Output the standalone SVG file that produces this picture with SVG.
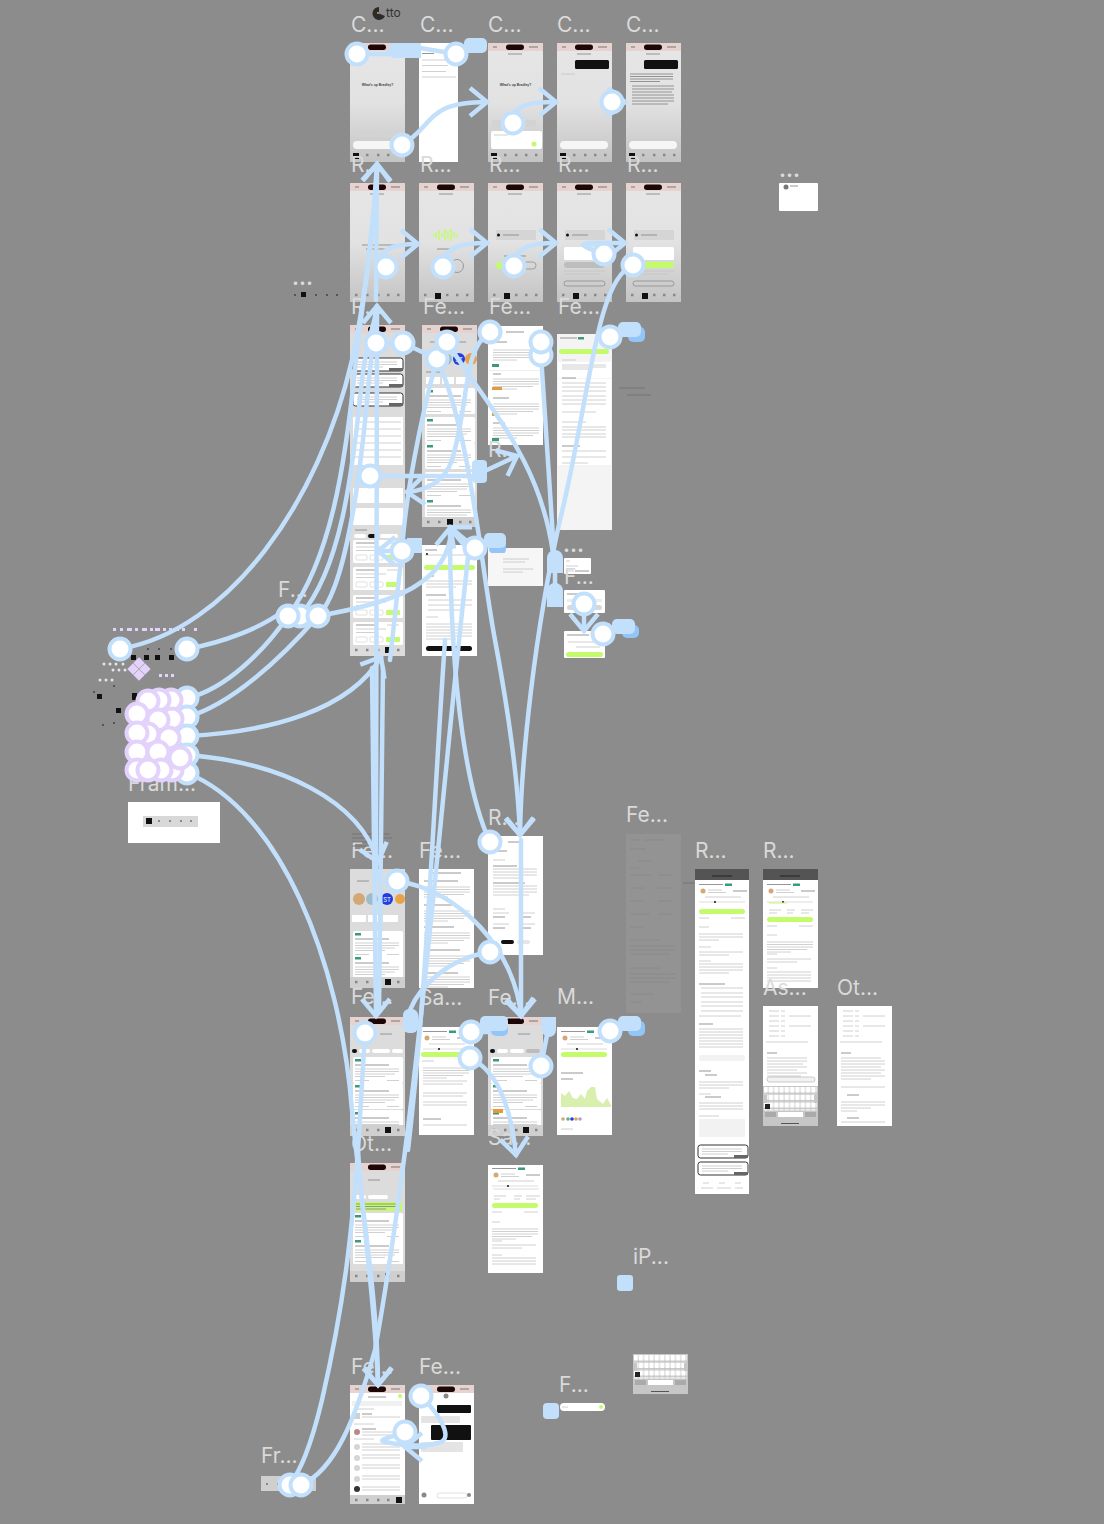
<svg xmlns="http://www.w3.org/2000/svg" width="1104" height="1524" viewBox="0 0 1104 1524">
<style>
.lb{font-family:Inter,"Liberation Sans",sans-serif;font-size:21px;fill:#dadada}
.t{font-family:"Liberation Sans",sans-serif;font-weight:700;fill:#444}
.c{fill:none;stroke:#c2e0fb;stroke-width:4.500;stroke-linecap:round;marker-end:url(#ah)}
.n{fill:none;stroke:#c2e0fb;stroke-width:4.500;stroke-linecap:round}
.b{fill:#c2e0fb}
.d{fill:#93c5f8}
.h{fill:#fff;stroke:#c2e0fb;stroke-width:4}
.p{fill:#fff;stroke:#e3d2fb;stroke-width:4}
.w{fill:#fff}
.tx{stroke:#c4c4c4;stroke-width:.8;fill:none}
.tk{stroke:#8a8a8a;stroke-width:.9;fill:none}
.k{fill:#111}
.g{fill:#c4fb6d}
.dot{fill:#e6e6e6}
.pd{fill:#e3d2fb}
</style>
<defs>
<marker id="ah" markerUnits="userSpaceOnUse" markerWidth="34" markerHeight="38" refX="19" refY="17" orient="auto">
<path d="M2 3L19 17L2 31" fill="none" stroke="#c2e0fb" stroke-width="4.500"/>
</marker>
<linearGradient id="gr" x1="0" y1="0" x2="0" y2="1"><stop offset="0" stop-color="#e6e6e6"/><stop offset=".5" stop-color="#e2e2e2"/><stop offset="1" stop-color="#c4c4c4"/></linearGradient>
<pattern id="key" width="5.300" height="7.500" patternUnits="userSpaceOnUse"><rect x=".4" y=".6" width="4.500" height="6" rx=".7" fill="#fff"/></pattern>
<g id="sb"><rect width="55" height="8" fill="#e6d2cf"/><rect x="18" y="1.500" width="18" height="5.500" rx="2.700" fill="#1d0606"/><path d="M5 4h4M41 4h9" stroke="#777" stroke-width="1"/></g>
<g id="sc"><rect width="55" height="119" fill="url(#gr)"/><use href="#sb"/></g>
<g id="tabs"><path d="M5 0h2.500M16 0h2.500M27 0h2.500M37 0h2.500M47 0h2.500" stroke="#888" stroke-width="2.500"/></g>
<g id="c1"><rect width="50" height="26" rx="1.500" class="w"/><rect x="2" y="2" width="6" height="2.500" fill="#3c9a7c"/><path class="tk" d="M2 8h34"/><path class="tx" d="M2 12h44M2 14.500h44M2 17h40M2 19.500h30M2 23.500h14M34 23.500h12"/></g>
<g id="c2"><rect width="50" height="23" rx="1.500" class="w"/><path class="tk" d="M3 3h20"/><path class="tx" d="M34 3h12M3 7h30M3 10.500h22"/><rect x="3" y="15" width="11" height="5" rx="1" fill="none" stroke="#ccc" stroke-width=".6"/><rect x="17" y="15" width="13" height="5" rx="1" fill="none" stroke="#ccc" stroke-width=".6"/><rect x="33" y="15" width="14" height="5" rx="1" class="g"/></g>
<g id="call"><rect width="50" height="13" rx="2.500" class="w" stroke="#333" stroke-width="1"/><path class="tx" d="M4 4h40M4 6.500h40M4 9h26"/><rect x="36" y="10" width="14" height="3" fill="#666"/></g>
<g id="para"><path class="tx" d="M0 0h46M0 2.500h46M0 5h46M0 7.500h40M0 10h24"/></g>
<g id="hdr"><circle cx="6" cy="9" r="2.500" fill="#d3a877"/><path class="tk" d="M2 2.500h24"/><rect x="28" y="1.500" width="7" height="2.500" fill="#3c9a7c"/><path class="tx" d="M11 8h14M11 10.500h18"/><path class="tk" d="M36 9h14" stroke-width="1.300"/><path class="tx" d="M8 15h36"/><path d="M2 20h46" stroke="#ddd" stroke-width="1"/><circle cx="18" cy="20" r="1" class="k"/></g>
<g id="kbd"><rect width="55" height="40" fill="#c6c6c6"/><rect x="1" y="1" width="53" height="7.500" fill="url(#key)"/><rect x="4" y="9" width="47" height="7.500" fill="url(#key)"/><rect x="1" y="17" width="53" height="7.500" fill="url(#key)"/><rect x="2" y="18" width="5" height="5" fill="#222"/><rect x="2" y="26" width="11" height="5" fill="#aaa"/><rect x="15" y="26" width="25" height="5" class="w"/><rect x="42" y="26" width="11" height="5" fill="#aaa"/><rect x="18" y="37" width="18" height="1" fill="#555"/></g>
</defs>

<rect width="1104" height="1524" fill="#8c8c8c"/>

<g id="logo"><path d="M379 7a6.500 6.500 0 1 0 6 9l-6-2.500z" fill="#2b2b2b"/><circle cx="378" cy="13" r="1" fill="#d9a33c"/><text x="386" y="17" font-family="Inter,'Liberation Sans',sans-serif" font-size="12" fill="#333">tto</text></g>

<g id="f-chat1" transform="translate(350,43)"><use href="#sc"/><path class="tk" d="M20 11h14"/><text class="t" x="27.500" y="43" font-size="3.400" text-anchor="middle">What's up Bradley?</text><rect x="4" y="87" width="22" height="7" rx="2" fill="#d3d3d3"/><rect x="28" y="87" width="20" height="7" rx="2" fill="#d3d3d3"/><rect x="3" y="98" width="48" height="8" rx="4" fill="#f6f6f6"/><use href="#tabs" y="112"/><rect x="3" y="110" width="6" height="6" class="k"/></g>
<g id="f-hist" transform="translate(419,43)"><rect width="39" height="119" class="w"/><path class="tk" d="M3 10.500h12"/><path class="tx" d="M3 17h26M3 22.500h26M3 28.500h24M3 34h34"/></g>
<g id="f-chat2" transform="translate(488,43)"><use href="#sc"/><path class="tk" d="M20 11h14"/><text class="t" x="27.500" y="43" font-size="3.400" text-anchor="middle">What's up Bradley?</text><rect x="4" y="77" width="22" height="7" rx="2" fill="#d3d3d3"/><rect x="28" y="77" width="20" height="7" rx="2" fill="#d3d3d3"/><rect x="3" y="88" width="51" height="18" rx="2" class="w"/><circle cx="46" cy="101" r="2.500" class="g"/><path class="tx" d="M6 92h14"/><use href="#tabs" y="112"/><rect x="3" y="110" width="6" height="6" class="k"/></g>
<g id="f-chat3" transform="translate(557,43)"><use href="#sc"/><path class="tk" d="M20 11h14"/><rect x="18" y="17" width="34" height="9" rx="1.500" class="k"/><path class="tx" d="M4 31h14"/><rect x="3" y="98" width="48" height="8" rx="4" fill="#f6f6f6"/><use href="#tabs" y="112"/><rect x="3" y="110" width="6" height="6" class="k"/></g>
<g id="f-chat4" transform="translate(626,43)"><use href="#sc"/><path class="tk" d="M20 11h14"/><rect x="18" y="17" width="34" height="9" rx="1.500" class="k"/><path class="tk" stroke-width=".6" d="M4 31h43M4 33.500h43M4 36h43M4 38.500h30M6 43h42M6 46h42M6 49h40M6 52h42M6 55h42M6 58h42M6 61h36"/><rect x="3" y="98" width="48" height="8" rx="4" fill="#f6f6f6"/><use href="#tabs" y="112"/><rect x="3" y="110" width="6" height="6" class="k"/></g>

<g id="f-rec1" transform="translate(350,183)"><use href="#sc"/><path class="tk" d="M20 11h14"/><path class="tk" d="M12 62h34M16 66h22"/><use href="#tabs" y="112"/></g>
<g id="f-rec2" transform="translate(419,183)"><use href="#sc"/><path class="tk" d="M20 11h14"/><path d="M14 52h2M17 49v6M20 47v10M23 50v4M26 46v12M29 48v8M32 46v12M35 49v6M38 51v3" stroke="#c4fb6d" stroke-width="1.500"/><path class="tk" d="M18 66h19"/><circle cx="24" cy="83" r="10" fill="none" stroke="#222"/><circle cx="38" cy="83" r="6.500" fill="none" stroke="#999"/><use href="#tabs" y="112"/><rect x="16" y="110" width="6" height="6" class="k"/></g>
<g id="f-rec3" transform="translate(488,183)"><use href="#sc"/><path class="tk" d="M20 11h14"/><rect x="8" y="47" width="40" height="10" rx="1" fill="#d5d5d5"/><circle cx="10.500" cy="52" r="1.500" class="k"/><path class="tk" d="M15 52h16"/><path class="tk" d="M16 73h22"/><rect x="8" y="79" width="18" height="7" rx="3.500" class="g"/><rect x="28" y="79" width="20" height="7" rx="3.500" fill="none" stroke="#888" stroke-width=".7"/><use href="#tabs" y="112"/><rect x="16" y="110" width="6" height="6" class="k"/></g>
<g id="f-rec4" transform="translate(557,183)"><use href="#sc"/><path class="tk" d="M20 11h14"/><rect x="8" y="47" width="40" height="10" rx="1" fill="#d5d5d5"/><circle cx="10.500" cy="52" r="1.500" class="k"/><path class="tk" d="M15 52h16"/><rect x="7" y="64" width="41" height="13" rx="1.500" class="w"/><rect x="7" y="79" width="41" height="6" rx="3" fill="#bdbdbd"/><path class="tx" d="M7 88h41M7 91h36"/><rect x="7" y="98" width="41" height="5" rx="2.500" fill="none" stroke="#777" stroke-width=".6"/><use href="#tabs" y="112"/><rect x="16" y="110" width="6" height="6" class="k"/></g>
<g id="f-rec5" transform="translate(626,183)"><use href="#sc"/><path class="tk" d="M20 11h14"/><rect x="8" y="47" width="40" height="10" rx="1" fill="#d5d5d5"/><circle cx="10.500" cy="52" r="1.500" class="k"/><path class="tk" d="M15 52h16"/><rect x="7" y="64" width="41" height="13" rx="1.500" class="w"/><rect x="7" y="79" width="41" height="6" rx="3" class="g"/><path class="tx" d="M7 88h41M7 91h36"/><rect x="7" y="98" width="41" height="5" rx="2.500" fill="none" stroke="#777" stroke-width=".6"/><use href="#tabs" y="112"/><rect x="16" y="110" width="6" height="6" class="k"/></g>

<g id="f-home" transform="translate(350,325)"><rect width="55" height="331" fill="#dcdcdc"/><use href="#sb"/><rect x="4" y="16" width="4" height="4" class="g"/><use href="#call" x="3" y="33"/><use href="#call" x="3" y="49"/><use href="#call" x="3" y="68"/><rect x="3" y="92" width="50" height="48" class="w"/><path class="tx" d="M5 97h46M5 104h46M5 111h46M5 118h46M5 125h46M5 132h46"/><rect x="3" y="163" width="50" height="15" class="w"/><rect x="3" y="183" width="50" height="17" class="w"/><path class="tk" d="M5 205h12"/><rect x="18" y="209" width="10" height="4" rx="2" class="k"/><rect x="4" y="209" width="12" height="4" rx="2" class="w"/><rect x="30" y="209" width="18" height="4" rx="2" class="w"/><use href="#c2" x="3" y="215"/><use href="#c2" x="3" y="242"/><use href="#c2" x="3" y="270"/><use href="#c2" x="3" y="297"/><use href="#tabs" y="325"/><rect x="35" y="322" width="6" height="6" class="k"/></g>
<g id="f-feed1" transform="translate(422,325)"><rect width="55" height="202" fill="#dcdcdc"/><use href="#sb"/><path class="tk" d="M8 17h12M32 17h12"/><circle cx="11" cy="34" r="6" fill="#d3a877"/><circle cx="24" cy="34" r="6" fill="#9bbcc9"/><circle cx="37" cy="34" r="6" fill="#1d3fe0"/><text x="37" y="36.500" font-family="Inter,'Liberation Sans',sans-serif" font-size="6" fill="#fff" text-anchor="middle">ST</text><circle cx="49" cy="34" r="6" fill="#e8a24c"/><path class="tk" d="M4 47h16"/><rect x="4" y="52" width="14" height="7" class="w"/><rect x="20" y="52" width="12" height="7" class="w"/><rect x="34" y="52" width="12" height="7" class="w"/><use href="#c1" x="3" y="63"/><use href="#c1" x="3" y="92"/><use href="#c1" x="3" y="118"/><use href="#c1" x="3" y="147"/><use href="#c1" x="3" y="173"/><rect y="192" width="55" height="10" fill="#cfcfcf"/><use href="#tabs" y="197"/><rect x="25" y="194" width="6" height="6" class="k"/></g>
<g id="f-list" transform="translate(488,326)"><rect width="55" height="119" class="w"/><path class="tk" d="M18 6h18"/><path class="tk" d="M5 16h14"/><use href="#para" x="5" y="24"/><rect x="4" y="38" width="7" height="3" fill="#3c9a7c"/><rect x="1" y="44" width="53" height="1" fill="#eee"/><path class="tk" d="M5 48h8"/><use href="#para" x="5" y="53"/><rect x="4" y="61" width="10" height="3" fill="#e59a3c"/><path class="tk" d="M5 72h16"/><use href="#para" x="5" y="78"/><rect x="4" y="87" width="5" height="3" fill="#e59a3c"/><path class="tk" d="M5 97h12"/><use href="#para" x="5" y="102"/><rect x="4" y="112" width="7" height="3" fill="#3c9a7c"/></g>
<g id="f-det1" transform="translate(557,334)"><rect width="55" height="196" fill="#f4f4f4"/><path class="tk" d="M3 4h17"/><rect x="21" y="3" width="6" height="2.500" fill="#3c9a7c"/><rect x="2" y="15" width="50" height="5" rx="2.500" class="g"/><rect x="1" y="28" width="53" height="16" class="w"/><path class="tx" d="M5 26h14M5 31h44M5 33h44M5 35h30"/><rect x="1" y="45" width="53" height="45" class="w"/><path class="tk" d="M5 44h14" stroke-width=".7"/><path class="tx" d="M5 49h44M5 53h44M5 57h44M5 62h44M5 66h44M5 70h44M5 78h34"/><rect x="1" y="90" width="53" height="20" class="w"/><path class="tx" d="M5 88h24M5 93h44M5 96h44M5 100h44M5 103h44"/><rect x="1" y="110" width="53" height="21" class="w"/><path class="tk" stroke-width=".7" d="M5 112h18"/><path class="tx" d="M5 117h44M5 123h44M5 129h26"/></g>
<g id="f-next" transform="translate(422,545)"><rect width="55" height="111" class="w"/><path class="tk" d="M3 5h12"/><path class="tx" d="M3 10h44"/><circle cx="5" cy="9" r="1" class="k"/><rect x="2" y="20" width="51" height="5" rx="2.500" class="g"/><path class="tk" stroke-width=".7" d="M4 31h8"/><path class="tx" d="M4 36h46M4 39h46M4 42h30"/><path class="tk" stroke-width=".7" d="M4 50h20"/><path class="tx" d="M6 55h44M6 60h44M6 65h34M4 72h12M4 79h46M4 82h46M4 85h46M4 88h46M4 91h46M4 94h30"/><rect x="4" y="101" width="46" height="5" rx="2.500" class="k"/></g>
<g id="f-opt" transform="translate(488,548)"><rect width="55" height="38" fill="#f6f6f6"/><path class="tk" d="M3 4h14"/><path class="tx" d="M15 11h26M15 14h22M15 21h30M15 24h20"/></g>
<g id="f-s1" transform="translate(564,558)"><rect width="27" height="16" rx="1" class="w"/><path class="tx" d="M2 3h4M2 8h12M2 13h8"/><path class="tk" d="M11 13h14" stroke-width=".7"/></g>
<g id="f-s2" transform="translate(564,590)"><rect width="41" height="23" rx="1" class="w"/><path class="tk" d="M3 4h11"/><rect x="3" y="9" width="35" height="3" fill="#eee"/><rect x="3" y="15" width="35" height="5" rx="2.500" fill="#d8d8d8"/></g>
<g id="f-s3" transform="translate(564,631)"><rect width="41" height="27" rx="1" class="w"/><path class="tk" d="M3 4h22"/><path class="tx" d="M4 11h32M12 16h24"/><rect x="2" y="21" width="37" height="5" rx="2.500" class="g"/></g>
<g id="f-mini" transform="translate(779,183)"><rect width="39" height="28" rx="1" class="w"/><circle cx="7" cy="4" r="2.500" fill="#777"/><path class="tk" d="M11 3h8"/></g>

<g id="f-fram" transform="translate(128,802)"><rect width="92" height="41" class="w"/><rect x="15" y="14" width="55" height="11" fill="#d8d8d8"/><rect x="18" y="16" width="6" height="6" class="k"/><path d="M30 19h2M41 19h2M52 19h2M62 19h2" stroke="#888" stroke-width="2"/></g>

<g id="f-feed2" transform="translate(350,869)"><rect width="55" height="119" fill="#dcdcdc"/><path class="tk" d="M7 12h12"/><circle cx="9" cy="30" r="6" fill="#d3a877"/><circle cx="22" cy="30" r="6" fill="#9bbcc9"/><circle cx="37" cy="30" r="6" fill="#1d3fe0"/><text x="37" y="32.500" font-family="Inter,'Liberation Sans',sans-serif" font-size="6" fill="#fff" text-anchor="middle">ST</text><circle cx="50" cy="30" r="5" fill="#e8a24c"/><rect x="2" y="46" width="14" height="7" class="w"/><rect x="18" y="46" width="12" height="7" class="w"/><rect x="33" y="46" width="15" height="7" class="w"/><use href="#c1" x="3" y="62"/><use href="#c1" x="3" y="86"/><rect y="108" width="55" height="11" fill="#cfcfcf"/><use href="#tabs" y="113"/><rect x="35" y="110" width="6" height="6" class="k"/></g>
<g id="f-list2" transform="translate(419,869)"><rect width="55" height="119" class="w"/><path class="tk" d="M12 4h30M5 12h34"/><use href="#para" x="5" y="18"/><path class="tk" d="M5 36h28"/><use href="#para" x="5" y="42"/><path class="tk" d="M5 58h30"/><use href="#para" x="5" y="64"/><path class="tk" d="M5 81h36"/><use href="#para" x="5" y="87"/><path class="tk" d="M5 104h34"/><use href="#para" x="5" y="108"/></g>
<g id="f-det2" transform="translate(488,836)"><rect width="55" height="119" class="w"/><path class="tk" d="M20 6h14"/><path class="tk" d="M5 15h14"/><path class="tx" d="M5 24h12"/><path class="tk" d="M5 30h24"/><path class="tx" d="M5 33h44M5 36h44M5 39h44M5 42h30"/><path class="tk" d="M5 47h32"/><path class="tx" d="M5 50h44M5 53h44M5 56h44M5 59h36M5 73h12"/><path class="tk" d="M5 81h12M31 81h12M5 92h12M31 92h12"/><path class="tx" d="M5 77h16M31 77h16M5 88h16M31 88h16"/><rect x="13" y="104" width="13" height="4" rx="2" class="k"/><rect x="29" y="104" width="13" height="4" rx="2" fill="#e5e5e5"/></g>

<g id="f-feed3" transform="translate(350,1017)"><rect width="55" height="119" fill="#dcdcdc"/><use href="#sb"/><path class="tk" d="M8 17h10M30 17h12"/><rect x="2" y="32" width="5" height="4" rx="2" class="k"/><rect x="9" y="32" width="11" height="4" rx="2" class="w"/><rect x="22" y="32" width="18" height="4" rx="2" class="w"/><rect x="42" y="32" width="11" height="4" rx="2" class="w"/><use href="#c1" x="3" y="40"/><use href="#c1" x="3" y="66"/><use href="#c1" x="3" y="93"/><rect y="108" width="55" height="11" fill="#cfcfcf"/><use href="#tabs" y="113"/><rect x="35" y="110" width="6" height="6" class="k"/></g>
<g id="f-sa" transform="translate(419,1027)"><rect width="55" height="108" class="w"/><use href="#hdr" x="2" y="2"/><rect x="2" y="25" width="51" height="5" rx="2.500" class="g"/><path class="tx" d="M3 34h12"/><use href="#para" x="4" y="41"/><path class="tx" d="M4 54h44M4 57h40M4 66h44M4 69h40M4 75h44M4 78h44"/><path class="tk" stroke-width=".7" d="M4 92h18"/><path class="tx" d="M4 98h44"/></g>
<g id="f-feed4" transform="translate(488,1017)"><rect width="55" height="119" fill="#dcdcdc"/><use href="#sb"/><path class="tk" d="M8 17h10M30 17h12"/><rect x="2" y="32" width="5" height="4" rx="2" class="k"/><rect x="9" y="32" width="11" height="4" rx="2" class="w"/><rect x="22" y="32" width="14" height="4" rx="2" class="w"/><rect x="38" y="32" width="14" height="4" rx="2" fill="#bbb"/><use href="#c1" x="3" y="40"/><use href="#c1" x="3" y="66"/><use href="#c1" x="3" y="93"/><rect x="5" y="92" width="10" height="4" fill="#e59a3c"/><rect y="108" width="55" height="11" fill="#cfcfcf"/><use href="#tabs" y="113"/><rect x="35" y="110" width="6" height="6" class="k"/></g>
<g id="f-m" transform="translate(557,1027)"><rect width="55" height="108" class="w"/><use href="#hdr" x="2" y="2"/><rect x="4" y="25" width="46" height="5" rx="2.500" class="g"/><path class="tk" d="M4 46h22M4 52h12" stroke-width=".7"/><path d="M4 80V66L8 69L12 64L16 71L20 72L24 67L28 72L30 64L34 60L38 60L40 72L46 77L50 71L54 78V80Z" fill="#d8efae"/><circle cx="6" cy="92" r="1.800" fill="#d3a877"/><circle cx="11" cy="92" r="1.800" fill="#6a9"/><circle cx="15" cy="92" r="1.800" fill="#1d3fe0"/><circle cx="19" cy="92" r="1.800" fill="#e8a24c"/><circle cx="23" cy="92" r="1.800" fill="#a9a2d8"/><path class="tx" d="M4 102h12"/></g>
<g id="f-sa2" transform="translate(488,1165)"><rect width="55" height="108" class="w"/><use href="#hdr" x="2" y="1"/><path d="M5 24h46" stroke="#ddd"/><path class="tx" d="M6 31h12M26 31h8M38 31h14M6 34h6M26 34h6M38 34h10"/><rect x="4" y="38" width="46" height="5" rx="2.500" class="g"/><path class="tx" d="M4 47h10M36 47h14M4 57h8"/><use href="#para" x="4" y="64"/><path class="tx" d="M4 76h10M4 80h44M4 83h30M4 90h10M4 93h44M4 96h44M4 99h44"/></g>
<g id="f-ot" transform="translate(350,1163)"><rect width="55" height="119" fill="#dcdcdc"/><use href="#sb"/><path class="tk" d="M18 17h12"/><rect x="4" y="32" width="12" height="4" rx="2" class="w"/><rect x="18" y="32" width="20" height="4" rx="2" class="w"/><rect x="4" y="39" width="48" height="9" fill="#c4fb6d"/><path class="tk" stroke-width=".6" d="M6 41h44M6 43.500h44M6 46h30"/><use href="#c1" x="3" y="50"/><use href="#c1" x="3" y="75"/><rect y="108" width="55" height="11" fill="#cfcfcf"/><use href="#tabs" y="113"/><rect x="35" y="110" width="4" height="6" class="k"/></g>

<g id="f-dim" transform="translate(626,834)"><rect width="55" height="179" fill="#939393"/><path stroke="#898989" stroke-width=".8" fill="none" d="M4 6h10M18 6h20M4 15h16M12 27h14M4 34h10M4 41h22M32 41h14M4 54h14M32 54h14M4 67h14M32 67h14M4 80h20M32 80h14M4 93h14M4 106h30M4 112h46M4 116h46M4 120h40M4 134h30M4 140h46M4 144h46M4 148h40M4 160h24M4 168h12"/></g>
<g id="f-r1" transform="translate(695,869)"><rect width="54" height="325" class="w"/><rect width="54" height="11" fill="#545454"/><path d="M17 7h20" stroke="#222"/><use href="#hdr" x="2" y="13"/><rect x="4" y="40" width="46" height="5" rx="2.500" class="g"/><path class="tx" d="M4 49h10M36 49h14M4 58h10M4 65h44M4 68h44M4 71h20M4 78h12M4 83h44M4 86h30M4 92h12M4 95h44M4 98h44M4 101h44M4 104h30"/><path class="tk" stroke-width=".7" d="M4 115h26M4 155h14"/><path class="tx" d="M6 119h42M6 124h42M6 128h42M6 133h42M6 137h42M6 142h42M4 147h42M4 160h44M4 163h44M4 166h44M4 169h44M4 172h44M4 175h44M4 178h44"/><rect x="4" y="186" width="46" height="6" rx="3" fill="#f2f2f2"/><path class="tk" stroke-width=".7" d="M4 202h12M10 206h12M10 228h16"/><path class="tx" d="M4 213h44M4 216h44M4 219h30M4 225h12M4 234h44M4 237h44M4 240h44M4 247h20"/><rect x="4" y="250" width="46" height="18" fill="#f2f2f2"/><use href="#call" x="3" y="276"/><use href="#call" x="3" y="293"/><path class="tx" d="M8 314h6M24 314h6M40 314h6M6 319h12M22 319h14M40 319h8"/></g>
<g id="f-r2" transform="translate(763,869)"><rect width="55" height="119" class="w"/><rect width="55" height="11" fill="#545454"/><path d="M17 7h20" stroke="#222"/><use href="#hdr" x="2" y="13"/><path d="M6 34h18" stroke="#c4fb6d" stroke-width="1"/><path class="tx" d="M6 41h12M24 41h8M38 41h12M6 44h8M24 44h6M38 44h8"/><rect x="4" y="48" width="46" height="5" rx="2.500" class="g"/><path class="tx" d="M4 57h10M36 57h14M4 66h10"/><use href="#para" x="4" y="73"/><path class="tx" d="M4 85h10M4 90h44M4 93h30M4 99h10M4 103h44M4 106h44M4 109h44M4 112h44"/></g>
<g id="f-as" transform="translate(763,1006)"><rect width="55" height="120" class="w"/><path class="tx" d="M6 5h10M18 5h4M6 10h10M18 10h4M26 10h22M6 15h10M18 15h4M6 20h10M18 20h4M26 20h22M6 25h10M18 25h4M6 30h10M18 30h4M3 36h42"/><path class="tk" stroke-width=".7" d="M4 47h10"/><path class="tx" d="M4 52h40M4 55h40M4 58h36M4 61h40M4 64h30M4 67h40M4 70h34"/><rect x="4" y="71" width="48" height="5" rx="2.500" fill="#f2f2f2" stroke="#999" stroke-width=".5"/><use href="#kbd" y="80"/></g>
<g id="f-ot2" transform="translate(837,1006)"><rect width="55" height="120" class="w"/><path class="tx" d="M6 5h10M18 5h4M6 10h10M18 10h4M26 10h22M6 15h10M18 15h4M6 20h10M18 20h4M26 20h22M6 25h10M18 25h4M6 30h10M18 30h4M3 36h42"/><path class="tk" stroke-width=".7" d="M4 47h10M10 89h12M10 112h12"/><path class="tx" d="M4 52h40M4 55h44M4 58h44M4 61h40M4 64h44M4 67h40M4 70h44M4 73h30M4 81h44M4 96h44M4 99h44M4 102h30M4 105h16M4 116h44"/></g>

<g id="f-c1" transform="translate(350,1385)"><rect width="55" height="119" class="w"/><use href="#sb"/><path class="tk" d="M18 12h18"/><circle cx="50" cy="11" r="2" class="g"/><rect x="2" y="16" width="50" height="5" fill="#f0f0f0"/><path class="tx" d="M4 24h20"/><rect x="4" y="28" width="6" height="6" fill="#d0d0d0"/><path class="tk" stroke-width=".7" d="M12 29h10"/><path class="tx" d="M12 32h38"/><path class="tx" d="M4 39h20"/><circle cx="7" cy="47" r="3" fill="#b88"/><path class="tk" stroke-width=".7" d="M12 44h14"/><path class="tx" d="M12 47h38M12 50h38M4 54h20"/><circle cx="7" cy="62" r="3" fill="#d5d5d5"/><circle cx="7" cy="73" r="3" fill="#d5d5d5"/><circle cx="7" cy="83" r="3" fill="#d5d5d5"/><circle cx="7" cy="94" r="3" fill="#d5d5d5"/><circle cx="7" cy="104" r="3" fill="#333"/><path class="tx" d="M12 59h38M12 62h38M12 65h38M12 70h38M12 73h38M12 80h38M12 83h38M12 91h38M12 94h38M12 102h38M12 105h38"/><rect y="110" width="55" height="9" fill="#cfcfcf"/><use href="#tabs" y="115"/><rect x="46" y="112" width="6" height="6" class="k"/></g>
<g id="f-c2" transform="translate(419,1385)"><rect width="55" height="119" class="w"/><use href="#sb"/><circle cx="27" cy="11" r="2.500" fill="#888"/><rect x="18" y="20" width="34" height="8" rx="1" class="k"/><rect x="2" y="31" width="39" height="7" rx="1" fill="#e4e4e4"/><rect x="12" y="40" width="40" height="15" rx="1" class="k"/><rect x="2" y="57" width="42" height="10" rx="1" fill="#e4e4e4"/><circle cx="5" cy="110" r="2.500" fill="#888"/><rect x="18" y="108" width="30" height="5" rx="2.500" fill="none" stroke="#ccc" stroke-width=".6"/><circle cx="50" cy="110" r="2" fill="#888"/></g>
<g id="f-in" transform="translate(560,1403)"><rect width="45" height="8" rx="4" class="w"/><circle cx="41" cy="4" r="2" class="g"/><path class="tx" d="M2 4h6"/></g>
<g id="f-kb" transform="translate(633,1354)"><use href="#kbd"/></g>
<g id="f-tab" transform="translate(261,1476)"><rect width="55" height="15" fill="#cfcfcf"/><path d="M5 8h2M16 8h2M27 8h2M38 8h2M49 8h2" stroke="#888" stroke-width="2"/></g>

<g id="labels">
<text class="lb" x="351" y="32">C...</text><text class="lb" x="420" y="32">C...</text><text class="lb" x="488" y="32">C...</text><text class="lb" x="557" y="32">C...</text><text class="lb" x="626" y="32">C...</text>
<text class="lb" x="351" y="172">R...</text><text class="lb" x="420" y="172">R...</text><text class="lb" x="489" y="172">R...</text><text class="lb" x="558" y="172">R...</text><text class="lb" x="627" y="172">R...</text>
<text class="lb" x="351" y="314">R...</text><text class="lb" x="423" y="314">Fe...</text><text class="lb" x="489" y="314">Fe...</text><text class="lb" x="558" y="314">Fe...</text>
<text class="lb" x="488" y="457">R...</text><text class="lb" x="278" y="597">F...</text><text class="lb" x="292" y="285" font-weight="700">...</text><text class="lb" x="779" y="177" font-weight="700">...</text><text class="lb" x="563" y="552" font-weight="700">...</text><text class="lb" x="564" y="584" font-size="19">F...</text>
<text class="lb" x="128" y="791">Fram...</text>
<text class="lb" x="351" y="858">Fe...</text><text class="lb" x="419" y="858">Fe...</text><text class="lb" x="488" y="825">R...</text><text class="lb" x="626" y="822">Fe...</text><text class="lb" x="695" y="858">R...</text><text class="lb" x="763" y="858">R...</text>
<text class="lb" x="763" y="995">As...</text><text class="lb" x="837" y="995">Ot...</text>
<text class="lb" x="351" y="1004">Fe...</text><text class="lb" x="419" y="1005">Sa...</text><text class="lb" x="488" y="1005">Fe...</text><text class="lb" x="557" y="1004">M...</text>
<text class="lb" x="351" y="1151">Ot...</text><text class="lb" x="488" y="1145">Sa...</text><text class="lb" x="633" y="1264">iP...</text>
<text class="lb" x="351" y="1374">Fe...</text><text class="lb" x="419" y="1374">Fe...</text><text class="lb" x="559" y="1392">F...</text><text class="lb" x="261" y="1463">Fr...</text>
</g>

<g id="decor">
<g class="pd"><rect x="113" y="628" width="3" height="3"/><rect x="120" y="628" width="3" height="3"/><rect x="127" y="628" width="5" height="3"/><rect x="135" y="628" width="3" height="3"/><rect x="142" y="628" width="5" height="3"/><rect x="150" y="628" width="3" height="3"/><rect x="155" y="628" width="5" height="3"/><rect x="163" y="628" width="3" height="3"/><rect x="169" y="628" width="3" height="3"/><rect x="176" y="628" width="3" height="3"/><rect x="182" y="628" width="3" height="3"/><rect x="194" y="628" width="3" height="3"/><rect x="159" y="674" width="3" height="3"/><rect x="165" y="674" width="3" height="3"/><rect x="171" y="674" width="3" height="3"/></g>
<g class="pd"><rect x="135" y="659" width="8" height="8" transform="rotate(45 139 663)"/><rect x="141" y="665" width="8" height="8" transform="rotate(45 145 669)"/><rect x="135" y="671" width="8" height="8" transform="rotate(45 139 675)"/><rect x="129" y="665" width="8" height="8" transform="rotate(45 133 669)"/></g>
<g class="k"><rect x="131" y="655" width="5" height="5"/><rect x="144" y="655" width="5" height="5"/><rect x="155" y="655" width="5" height="5"/><rect x="169" y="655" width="5" height="5"/><rect x="97" y="694" width="5" height="5"/><rect x="116" y="708" width="5" height="5"/><rect x="132" y="693" width="5" height="7"/><rect x="301" y="292" width="5" height="5"/></g>
<g class="dot"><circle cx="104" cy="664" r="1.500"/><circle cx="110" cy="664" r="1.500"/><circle cx="116" cy="664" r="1.500"/><circle cx="123" cy="664" r="1.500"/><circle cx="113" cy="670" r="1.500"/><circle cx="119" cy="670" r="1.500"/><circle cx="125" cy="670" r="1.500"/><circle cx="100" cy="680" r="1.500"/><circle cx="106" cy="680" r="1.500"/><circle cx="112" cy="680" r="1.500"/></g>
<path d="M147 649h2M158 649h2M170 649h2M93 692h2M113 686h2M102 725h2M113 723h2M294 295h2M315 295h2M326 295h2M336 295h2" stroke="#555" stroke-width="2"/>
<path d="M619 388h26M627 395h24M352 834h38M352 838h40M352 842h34M352 846h30M683 883h12" stroke="#6e6e6e" stroke-width=".8"/>
</g>

<g id="connectors">
<path class="b" d="M395 43h26v15h-26a7 7 0 0 1 -7-7.500a7 7 0 0 1 7-7.500z"/>
<path class="n" d="M357 54H392M456 54L420 48"/>
<rect class="b" x="464" y="38" width="23" height="15" rx="5"/>
<path class="c" d="M402 145C435 125 425 102 487 102"/>
<path class="c" d="M513 123C513 104 530 102 556 102"/>
<path class="c" d="M612 102H625"/>
<path class="c" d="M386 267C372 250 394 244 418 244"/>
<path class="c" d="M443 267C443 248 460 243 487 243"/>
<path class="c" d="M514 266C514 248 530 243 556 243"/>
<path class="c" d="M604 254C590 249 575 244 590 243H625"/>
<path class="c" d="M633 265C595 280 590 400 560 520C535 630 521 760 520 835"/>
<path class="c" d="M120 649C230 630 320 500 352 360C360 325 372 250 377 164"/>
<path class="n" d="M187 649C225 642 260 628 282 612"/>
<path class="n" d="M288 616C330 560 345 470 356 360C365 280 375 230 377 170"/>
<path class="n" d="M300 616C340 570 352 480 362 380C368 330 374 330 376 310"/>
<path class="n" d="M318 616C345 590 360 480 368 390C372 345 376 330 376 310"/>
<path class="n" d="M187 698C225 690 265 650 288 616"/>
<path class="n" d="M187 717C230 705 280 660 318 616"/>
<path class="c" d="M187 736C270 732 350 710 381 657"/>
<path class="c" d="M187 755C280 762 360 800 378 862"/>
<path class="c" d="M187 773C280 810 340 960 352 1110C360 1200 378 1300 378 1385"/>
<path class="c" d="M376 880L377 306"/>
<path class="c" d="M376 300L377 164"/>
<path class="c" d="M372 668L376 1016"/>
<path class="n" d="M383 668L379 1012"/>
<path class="n" d="M376 343H403L437 359"/>
<path class="n" d="M437 359C420 420 405 500 402 551L390 660"/>
<path class="c" d="M437 359C470 430 480 560 495 640C510 720 518 780 520 835"/>
<path class="c" d="M490 332C462 350 470 400 452 460C445 480 430 490 407 492"/>
<path class="n" d="M447 342C490 410 540 460 553 553"/>
<path class="n" d="M541 342L541 355L554 553M555 570V585"/>
<path class="b" d="M547 558a8 8 0 0 1 16 0v15h-16z"/>
<path class="b" d="M547 591a8 8 0 0 1 16 0v16h-16z"/>
<path class="n" d="M370 476H472"/>
<rect class="b" x="472" y="460" width="15" height="23" rx="4"/>
<path class="c" d="M487 470L517 456"/>
<path class="c" d="M402 551H378"/>
<rect class="b" x="407" y="538" width="15" height="15"/>
<path class="c" d="M475 548L450 527"/>
<rect class="d" x="489" y="538" width="17" height="15" rx="4"/>
<rect class="b" x="484" y="533" width="22" height="15" rx="5"/>
<path class="c" d="M490 842C470 800 450 700 450 528"/>
<path class="n" d="M450 540C440 590 380 605 318 616"/>
<path class="n" d="M470 540C440 800 420 1100 375 1350C355 1420 335 1470 301 1485"/>
<path class="n" d="M445 640C432 830 427 987 408 1150"/>
<path class="c" d="M521 840V1016"/>
<path class="c" d="M397 881C460 890 515 950 521 1016"/>
<path class="n" d="M490 952C450 958 420 985 410 1010"/>
<rect class="b" x="403" y="1009" width="15" height="24" rx="6"/>
<path class="c" d="M470 1058C495 1070 510 1100 516 1155"/>
<path class="n" d="M471 1032H490"/>
<rect class="d" x="491" y="1021" width="17" height="15" rx="5"/>
<rect class="b" x="480" y="1016" width="28" height="15" rx="5"/>
<path class="n" d="M541 1066L548 1030"/>
<path class="b" d="M541 1017h15v13a7 7 0 0 1 -14 0z"/>
<path class="n" d="M365 1033L358 1150C352 1230 345 1300 322 1400C310 1450 300 1470 290 1485"/>
<path class="c" d="M358 1150C362 1220 375 1300 378 1385"/>
<rect class="d" x="628" y="327" width="17" height="15" rx="5"/>
<rect class="b" x="618" y="322" width="23" height="15" rx="5"/>
<path class="n" d="M610 337H620"/>
<rect class="d" x="628" y="1021" width="17" height="15" rx="5"/>
<rect class="b" x="618" y="1016" width="23" height="15" rx="5"/>
<path class="n" d="M610 1031H620"/>
<path class="c" d="M584 604V631"/>
<rect class="d" x="622" y="625" width="17" height="13" rx="5"/>
<rect class="b" x="612" y="619" width="23" height="15" rx="5"/>
<path class="n" d="M603 634L614 628"/>
<path class="n" d="M421 1396C440 1415 455 1440 438 1443C420 1448 400 1445 385 1442C375 1440 395 1436 405 1432"/>
<path class="c" d="M425 1447H405"/>
<rect class="b" x="543" y="1403" width="16" height="16" rx="4"/>
<rect class="b" x="617" y="1275" width="16" height="16" rx="3"/>
</g>

<g id="handles">
<circle class="h" cx="357" cy="54" r="10.500"/><circle class="h" cx="456" cy="54" r="10.500"/><circle class="h" cx="402" cy="145" r="10.500"/><circle class="h" cx="513" cy="123" r="10.500"/><circle class="h" cx="612" cy="102" r="10.500"/>
<circle class="h" cx="386" cy="267" r="10.500"/><circle class="h" cx="443" cy="267" r="10.500"/><circle class="h" cx="514" cy="266" r="10.500"/><circle class="h" cx="604" cy="254" r="10.500"/><circle class="h" cx="633" cy="265" r="10.500"/>
<circle class="h" cx="376" cy="343" r="10.500"/><circle class="h" cx="403" cy="343" r="10.500"/><circle class="h" cx="437" cy="359" r="10.500"/><circle class="h" cx="447" cy="342" r="10.500"/><circle class="h" cx="490" cy="332" r="10.500"/><circle class="h" cx="541" cy="355" r="10.500"/><circle class="h" cx="541" cy="342" r="10.500"/><circle class="h" cx="610" cy="337" r="10.500"/>
<circle class="h" cx="370" cy="476" r="10.500"/><circle class="h" cx="402" cy="551" r="10.500"/><circle class="h" cx="475" cy="548" r="10.500"/><circle class="h" cx="584" cy="604" r="10.500"/><circle class="h" cx="603" cy="634" r="10.500"/>
<circle class="h" cx="120" cy="649" r="10.500"/><circle class="h" cx="187" cy="649" r="10.500"/>
<circle class="h" cx="300" cy="616" r="10.500"/><circle class="h" cx="288" cy="616" r="10.500"/><circle class="h" cx="318" cy="616" r="10.500"/>
<circle class="h" cx="187" cy="698" r="10.500"/><circle class="h" cx="187" cy="717" r="10.500"/><circle class="h" cx="187" cy="736" r="10.500"/><circle class="h" cx="187" cy="755" r="10.500"/><circle class="h" cx="187" cy="773" r="10.500"/>
<circle class="h" cx="397" cy="881" r="10.500"/><circle class="h" cx="490" cy="842" r="10.500"/><circle class="h" cx="490" cy="952" r="10.500"/><circle class="h" cx="365" cy="1033" r="10.500"/><circle class="h" cx="471" cy="1032" r="10.500"/><circle class="h" cx="470" cy="1058" r="10.500"/><circle class="h" cx="541" cy="1066" r="10.500"/><circle class="h" cx="610" cy="1031" r="10.500"/>
<circle class="h" cx="421" cy="1396" r="10.500"/><circle class="h" cx="405" cy="1432" r="10.500"/><circle class="h" cx="290" cy="1485" r="10.500"/><circle class="h" cx="301" cy="1485" r="10.500"/>
</g>

<g id="purple-handles">
<circle class="p" cx="171" cy="700" r="10.500"/><circle class="p" cx="159" cy="700" r="10.500"/><circle class="p" cx="148" cy="701" r="10.500"/>
<circle class="p" cx="172" cy="719" r="10.500"/><circle class="p" cx="137" cy="714" r="10.500"/><circle class="p" cx="158" cy="720" r="10.500"/>
<circle class="p" cx="169" cy="738" r="10.500"/><circle class="p" cx="148" cy="734" r="10.500"/><circle class="p" cx="137" cy="733" r="10.500"/>
<circle class="p" cx="137" cy="752" r="10.500"/><circle class="p" cx="158" cy="752" r="10.500"/>
<circle class="p" cx="172" cy="770" r="10.500"/><circle class="p" cx="161" cy="770" r="10.500"/><circle class="p" cx="137" cy="770" r="10.500"/><circle class="p" cx="148" cy="770" r="10.500"/>
<circle class="p" cx="180" cy="758" r="10.500"/>
</g>
</svg>
